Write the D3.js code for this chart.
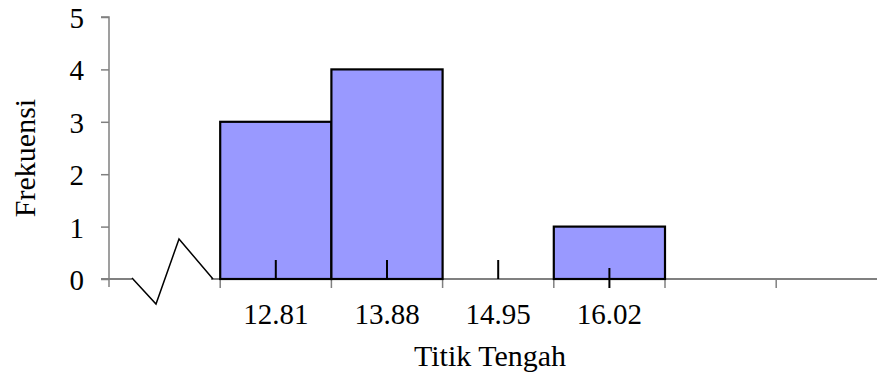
<!DOCTYPE html>
<html><head><meta charset="utf-8">
<script src="https://cdn.jsdelivr.net/npm/d3@7"></script>
<style>body{margin:0;background:#fff}svg{display:block}text{font-family:"Liberation Serif","Times New Roman",serif;fill:#000}</style>
</head><body>
<script>
const categories = ["c0", "12.81", "13.88", "14.95", "16.02", "c5", "c6"];
const tickLabels = ["", "12.81", "13.88", "14.95", "16.02", "", ""];
const frequencies = [0, 3, 4, 0, 1, 0, 0];
const yTicks = [0, 1, 2, 3, 4, 5];

const W = 877, H = 373;
const svg = d3.select("body").append("svg").attr("width", W).attr("height", H);
const x0 = 109, step = 111.2;
const x = d3.scaleBand().domain(categories).range([x0, x0 + step * categories.length]).padding(0);
const y = d3.scaleLinear().domain([0, 5]).range([279, 17]);
const axisCol = "#808080";
const fs = 29, fsTitle = 30;

// y axis
const ya = svg.append("g").attr("transform", `translate(${x0},0)`)
  .call(d3.axisLeft(y).tickValues(yTicks).tickSize(8).tickPadding(17).tickFormat(d3.format("d")));
ya.select(".domain").attr("stroke", axisCol).attr("stroke-width", 1.5).attr("d", `M-8,${y(5)}H0V${y(0)}`);
ya.selectAll(".tick line").attr("stroke", axisCol).attr("stroke-width", 1.5);
ya.selectAll(".tick text").attr("font-size", fs).attr("font-family", "Liberation Serif").attr("dy", "0.36em");

// x axis line (broken around zigzag)
const y0 = y(0);
const b0 = x(categories[0]);
svg.append("path").attr("fill", "none").attr("stroke", axisCol).attr("stroke-width", 2)
  .attr("d", `M${x0 - 8},${y0}H${b0 + 23}M${b0 + 102},${y0}H${W}`);
// ticks at band boundaries below axis
svg.append("g").selectAll("line").data(categories.slice(1)).join("line")
  .attr("x1", d => x(d)).attr("x2", d => x(d)).attr("y1", y0).attr("y2", y0 + 9)
  .attr("stroke", axisCol).attr("stroke-width", 1.5);
svg.append("line").attr("x1", x0).attr("x2", x0).attr("y1", y0).attr("y2", y0 + 8).attr("stroke", axisCol).attr("stroke-width", 1.5);

// zigzag break
svg.append("path").attr("fill", "none").attr("stroke", "#000").attr("stroke-width", 1.5)
  .attr("d", `M${b0 + 23},${y0 - 1}L${b0 + 47},${y0 + 25}L${b0 + 70},${y0 - 40}L${b0 + 104},${y0}`);

// bars
svg.append("g").selectAll("rect").data(categories.map((c, i) => ({c, v: frequencies[i]})).filter(d => d.v > 0)).join("rect")
  .attr("x", d => x(d.c)).attr("width", x.bandwidth()).attr("y", d => y(d.v)).attr("height", d => y0 - y(d.v))
  .attr("fill", "#9999FF").attr("stroke", "#000").attr("stroke-width", 2.2);

// midpoint ticks
const mids = categories.filter((c, i) => tickLabels[i] !== "");
svg.append("g").selectAll("line").data(mids).join("line")
  .attr("x1", d => x(d) + x.bandwidth() / 2).attr("x2", d => x(d) + x.bandwidth() / 2)
  .attr("y1", (d, i) => i === 3 ? y0 - 11 : y0 - 19).attr("y2", (d, i) => i === 3 ? y0 + 9 : y0)
  .attr("stroke", "#000").attr("stroke-width", 2);

// x labels
svg.append("g").selectAll("text").data(categories).join("text")
  .attr("x", d => x(d) + x.bandwidth() / 2).attr("y", 324).attr("text-anchor", "middle").attr("font-size", fs)
  .text((d, i) => tickLabels[i]);

svg.append("text").attr("x", 490).attr("y", 366).attr("text-anchor", "middle").attr("font-size", fsTitle).text("Titik Tengah");
svg.append("text").attr("transform", "translate(35,158) rotate(-90)").attr("text-anchor", "middle").attr("font-size", fsTitle).text("Frekuensi");
</script>
</body></html>
